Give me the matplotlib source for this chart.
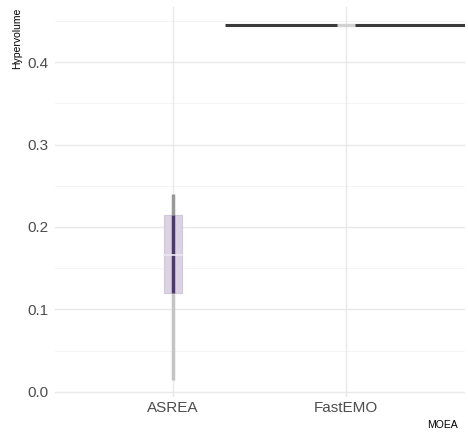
import numpy as np
import matplotlib.pyplot as plt

# Data (Hypervolume per MOEA)
moea = ['ASREA', 'FastEMO']
whisker_low = [0.015, 0.4445]
q1 = [0.120, 0.4445]
median = [0.166, 0.4445]
q3 = [0.214, 0.4445]
whisker_high = [0.240, 0.4445]
violin_halfwidth = [0.012, 0.70]

plt.rcParams['font.family'] = ['Liberation Sans', 'DejaVu Sans']

fig = plt.figure(figsize=(4.68, 4.38), dpi=100)
ax = fig.add_axes([55 / 468, 41 / 438, 410 / 468, 390 / 438])

pos = np.arange(1, len(moea) + 1)

# grid
for yv in np.arange(0.05, 0.46, 0.1):
    ax.axhline(yv, color='#f3f3f3', lw=0.6, zorder=0)
for yv in np.arange(0.0, 0.41, 0.1):
    ax.axhline(yv, color='#e8e8e8', lw=1.0, zorder=0)
for p in pos:
    ax.axvline(p, color='#e8e8e8', lw=1.0, zorder=0)

box_w = 0.1
for i, p in enumerate(pos):
    hw = violin_halfwidth[i]
    if q3[i] - q1[i] > 0.01:
        # box
        ax.add_patch(plt.Rectangle((p - box_w / 2, q1[i]), box_w, q3[i] - q1[i],
                                   facecolor='#dbd3e4', edgecolor='#d0c8da', lw=0.8, zorder=2))
        # whiskers / violin tails
        ax.plot([p, p], [q3[i], whisker_high[i]], color='#999999', lw=2.5, zorder=3,
                solid_capstyle='butt')
        ax.plot([p, p], [whisker_low[i], q1[i]], color='#c4c4c4', lw=2.5, zorder=3,
                solid_capstyle='butt')
        # dense part of the violin
        ax.plot([p, p], [q1[i], q3[i]], color='#4a3a68', lw=2.5, zorder=4,
                solid_capstyle='butt')
        ax.plot([p - box_w / 2, p + box_w / 2], [median[i], median[i]], color='#ece8f2',
                lw=1.2, zorder=5)
    else:
        # flat violin
        ax.plot([p - hw, p + hw], [median[i], median[i]], color='#3a3a3a', lw=2.2,
                zorder=3, solid_capstyle='butt')
        ax.plot([p - box_w / 2, p + box_w / 2], [median[i], median[i]], color='#d2d2d2',
                lw=2.2, zorder=5, solid_capstyle='butt')

ax.set_xlim(0.318, 2.688)
ax.set_ylim(-0.0061, 0.4667)
ax.set_xticks(pos)
ax.set_xticklabels(moea)
ax.set_yticks([0.0, 0.1, 0.2, 0.3, 0.4])
ax.set_yticklabels(['0.0', '0.1', '0.2', '0.3', '0.4'])
ax.tick_params(length=0, labelsize=11, labelcolor='#4d4d4d')
ax.tick_params(axis='x', pad=3)
ax.tick_params(axis='y', pad=5)
for s in ax.spines.values():
    s.set_visible(False)

fig.text(17 / 468, 1 - 8 / 438, 'Hypervolume', rotation=90, ha='center', va='top',
         fontsize=7.5, color='black')
fig.text(458 / 468, 1 - 425 / 438, 'MOEA', ha='right', va='center', fontsize=7.5,
         color='black')

fig.savefig('out.png', dpi=100, facecolor='white')
